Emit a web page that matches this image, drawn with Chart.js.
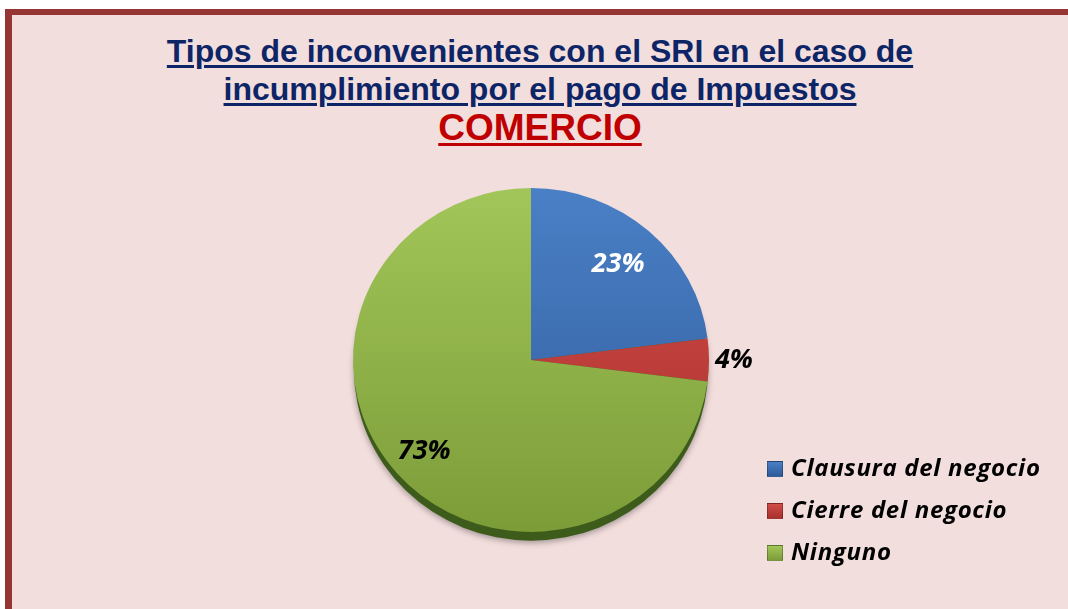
<!DOCTYPE html>
<html>
<head>
<meta charset="utf-8">
<script src="https://cdn.jsdelivr.net/npm/chart.js@4"></script>
<style>
  body { margin: 0; width: 1068px; height: 609px; background: #fff; overflow: hidden; position: relative; }
  #frame { position: absolute; left: 5px; top: 9px; width: 1100px; height: 700px; background: #f2dedd;
           border-left: 7px solid #963634; border-top: 6px solid #963634; }
  .ttl { position: absolute; left: 0; width: 1080px; text-align: center; font-family: "Liberation Sans", Arial, sans-serif;
         font-weight: bold; white-space: nowrap; }
  .ttl span { text-decoration: underline; text-decoration-thickness: 3px; text-underline-offset: 3px; }
  .l1 { top: 32px; font-size: 32px; line-height: 38px; color: #0d2566; }
  .l2 { top: 70px; font-size: 32px; line-height: 38px; color: #0d2566; }
  .l3 { top: 108px; font-size: 37px; line-height: 40px; color: #c00000; }
  #chart { position: absolute; left: 0; top: 0; }
  #legend { position: absolute; left: 767px; top: 452px; font-family: "Open Sans", sans-serif; font-weight: bold;
            font-style: italic; font-size: 24px; letter-spacing: 0.7px; color: #000; }
  #legend div { height: 42px; line-height: 30px; white-space: nowrap; }
  #legend i { display: inline-block; width: 14px; height: 14px; margin-right: 8px; vertical-align: -1px;
              border: 1px solid rgba(0,0,0,0.25); }
</style>
</head>
<body>
<div id="frame"></div>
<div class="ttl l1"><span>Tipos de inconvenientes con el SRI en el caso de</span></div>
<div class="ttl l2"><span>incumplimiento por el pago de Impuestos</span></div>
<div class="ttl l3"><span>COMERCIO</span></div>
<canvas id="chart" width="1068" height="609"></canvas>
<div id="legend"></div>
<script>
var categories = ["Clausura del negocio", "Cierre del negocio", "Ninguno"];
var values = [23, 4, 73];
var labels = ["23%", "4%", "73%"];
var topColors = ["#4a80c6", "#d24c48", "#a2c659"];
var bottomColors = ["#2f5a9a", "#a8302e", "#7c9c38"];
var labelColors = ["#ffffff", "#000000", "#000000"];
var squash = 0.966;

// legend
var html = "";
for (var k = 0; k < categories.length; k++) {
    html += '<div><i style="background:linear-gradient(' + topColors[k] + ',' + bottomColors[k] + ')"></i>' + categories[k] + '</div>';
}
document.getElementById("legend").innerHTML = html;

function sliceFill(c) {
    var idx = c.dataIndex;
    var area = c.chart.chartArea;
    if (!area) return topColors[idx];
    var g = c.chart.ctx.createLinearGradient(0, area.top, 0, area.bottom);
    g.addColorStop(0, topColors[idx]);
    g.addColorStop(1, bottomColors[idx]);
    return g;
}

// tilt the pie a little and put a dark rim under it
var tilt = {
    id: "tilt",
    beforeDatasetsDraw: function (chart) {
        var arc = chart.getDatasetMeta(0).data[0];
        var ctx = chart.ctx;
        ctx.save();
        ctx.translate(arc.x, arc.y);
        ctx.scale(1, squash);
        ctx.translate(-arc.x, -arc.y);
        ctx.save();
        ctx.shadowColor = "rgba(0,0,0,0.35)";
        ctx.shadowBlur = 6;
        ctx.shadowOffsetY = 2;
        ctx.fillStyle = "#3d5c1b";
        ctx.beginPath();
        ctx.arc(arc.x, arc.y + 10, arc.outerRadius - 1, 0, Math.PI * 2);
        ctx.fill();
        ctx.restore();
    },
    afterDatasetsDraw: function (chart) {
        chart.ctx.restore();
        var ctx = chart.ctx;
        var meta = chart.getDatasetMeta(0);
        var dist = [0.74, 1.14, 0.8];
        ctx.save();
        ctx.font = "italic bold 27px 'Open Sans', sans-serif";
        ctx.textAlign = "center";
        ctx.textBaseline = "middle";
        meta.data.forEach(function (a, i) {
            var mid = (a.startAngle + a.endAngle) / 2;
            var r = a.outerRadius * dist[i];
            var x = a.x + Math.cos(mid) * r;
            var y = a.y + Math.sin(mid) * r * squash;
            ctx.fillStyle = labelColors[i];
            ctx.fillText(labels[i], x, y);
        });
        ctx.restore();
    }
};

var ctx = document.getElementById("chart").getContext("2d");
var chart = new Chart(ctx, {
    type: "pie",
    data: {
        labels: categories,
        datasets: [{
            data: values,
            backgroundColor: sliceFill,
            borderWidth: 0
        }]
    },
    options: {
        responsive: false,
        animation: false,
        layout: { padding: { left: 353, right: 359, top: 182, bottom: 71 } },
        plugins: {
            legend: { display: false },
            title: { display: false },
            tooltip: { enabled: false }
        }
    },
    plugins: [tilt]
});
</script>
</body>
</html>
